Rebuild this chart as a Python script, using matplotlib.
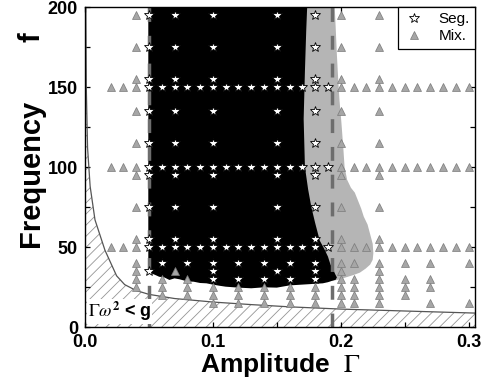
import matplotlib
matplotlib.use("Agg")
import matplotlib.pyplot as plt
from matplotlib.lines import Line2D
from matplotlib.patches import Polygon

plt.rcParams['font.family'] = ['Liberation Sans', 'DejaVu Sans']
plt.rcParams['mathtext.fontset'] = 'stix'
plt.rcParams['hatch.linewidth'] = 0.6

# ---------------- data ----------------
# rows with sparse sampling
sparse_rows = [195, 175, 155, 135, 115, 95, 75, 55]
sparse_seg_cols = [0.05, 0.07, 0.10, 0.15, 0.18]
sparse_mix_cols = [0.04, 0.20, 0.23]
# rows with dense sampling
dense_rows = [150, 100, 50]
dense_seg_cols = [0.05, 0.06, 0.07, 0.08, 0.09, 0.10, 0.11, 0.12, 0.13,
                  0.14, 0.15, 0.16, 0.17, 0.18, 0.19]
dense_mix_cols = [0.02, 0.03, 0.04, 0.20, 0.21, 0.22, 0.23, 0.24, 0.25,
                  0.26, 0.27, 0.28, 0.29, 0.30]
# low-frequency rows
low_rows = [40, 35, 30, 25, 20, 15]
low_seg_cols = [
    [0.06, 0.08, 0.10, 0.12, 0.14, 0.16, 0.18],
    [0.05, 0.10, 0.15, 0.18],
    [0.10, 0.12, 0.14, 0.16, 0.18],
    [],
    [],
    [],
]
low_mix_cols = [
    [0.04, 0.20, 0.21, 0.23, 0.25, 0.27, 0.30],
    [0.04, 0.07, 0.20, 0.23],
    [0.04, 0.06, 0.08, 0.20, 0.21, 0.23, 0.25, 0.27],
    [0.04, 0.06, 0.08, 0.10, 0.12, 0.14, 0.16, 0.18, 0.20, 0.21, 0.23, 0.25, 0.27],
    [0.06, 0.08, 0.10, 0.12, 0.14, 0.16, 0.18, 0.20, 0.21, 0.23, 0.25],
    [0.10, 0.12, 0.14, 0.16, 0.18, 0.20, 0.21, 0.23, 0.27, 0.30],
]

# boundary Gamma*omega^2 = g
curve_gamma = [0.0006, 0.001, 0.002, 0.004, 0.0078, 0.0156, 0.0247, 0.031,
               0.04, 0.05, 0.07, 0.10, 0.13, 0.16, 0.20, 0.25, 0.305]
curve_freq = [200, 150, 112, 88, 67, 48, 32, 26.5,
              22.8, 20.4, 17.8, 15.6, 14.0, 12.6, 11.2, 10.0, 8.7]

# segregated (black) region outline
black_gamma = [0.0495, 0.0495, 0.052, 0.055, 0.058, 0.062, 0.066, 0.070, 0.074,
               0.080, 0.085, 0.090, 0.095, 0.100, 0.105, 0.110, 0.120, 0.130,
               0.140, 0.150, 0.160, 0.170, 0.180, 0.186, 0.190, 0.193, 0.196,
               0.197, 0.196, 0.194, 0.192, 0.190, 0.187, 0.1836, 0.180, 0.177,
               0.1745, 0.172, 0.171, 0.172, 0.173, 0.174]
black_freq = [205, 33, 33.5, 32.5, 31.4, 31, 29.4, 30.4, 29.8,
              28.5, 28.3, 27.5, 27.3, 26.5, 25.8, 25.2, 24.6, 24.2,
              24.8, 24.6, 26, 26.5, 27, 27.3, 28, 28.8, 29.5,
              31, 32.5, 36, 39, 44, 49, 54, 65, 75,
              86, 100, 130, 160, 185, 205]

# partially segregated (gray) region outline
gray_gamma = [0.160, 0.195, 0.196, 0.197, 0.198, 0.199, 0.2005, 0.202, 0.203,
              0.205, 0.208, 0.211, 0.214, 0.216, 0.218, 0.221, 0.223, 0.225,
              0.2255, 0.225, 0.223, 0.2195, 0.215, 0.210, 0.204, 0.198, 0.190,
              0.160]
gray_freq = [205, 205, 188, 170, 155, 142, 128, 112, 100,
             92, 87, 84, 78, 74, 69, 64, 58, 52,
             46, 42, 39, 36.5, 34, 32.5, 31, 29.5, 28.5,
             27]

dashed_gamma = [0.05, 0.193]

# ---------------- figure ----------------
W, H = 491, 383
fig = plt.figure(figsize=(W / 100, H / 100), dpi=100)
ax = fig.add_axes([85 / W, 1 - 327 / H, 390 / W, 320 / H])
ax.set_xlim(0, 0.305)
ax.set_ylim(0, 200)

# hatched region below the curve
ax.fill_between(curve_gamma, 0, curve_freq, facecolor='none',
                edgecolor='#959595', hatch='///', linewidth=0, zorder=1)
ax.plot(curve_gamma, curve_freq, color='#555555', lw=0.9, zorder=2)

ax.add_patch(Polygon(list(zip(gray_gamma, gray_freq)), closed=True,
                     facecolor='#b5b5b5', edgecolor='none', zorder=2))
ax.add_patch(Polygon(list(zip(black_gamma, black_freq)), closed=True,
                     facecolor='black', edgecolor='none', zorder=3))

for g in dashed_gamma:
    ax.axvline(g, color='#6d6d6d', lw=2.5, dashes=(4, 4), zorder=4)

seg_x, seg_y, mix_x, mix_y = [], [], [], []
for f in sparse_rows:
    seg_x += sparse_seg_cols; seg_y += [f] * len(sparse_seg_cols)
    mix_x += sparse_mix_cols; mix_y += [f] * len(sparse_mix_cols)
for f in dense_rows:
    seg_x += dense_seg_cols; seg_y += [f] * len(dense_seg_cols)
    mix_x += dense_mix_cols; mix_y += [f] * len(dense_mix_cols)
for f, sc, mc in zip(low_rows, low_seg_cols, low_mix_cols):
    seg_x += sc; seg_y += [f] * len(sc)
    mix_x += mc; mix_y += [f] * len(mc)

star_kw = dict(marker='*', ms=7, mfc='white', mec='black', mew=0.6, ls='none')
tri_kw = dict(marker='^', ms=6, mfc='#a6a6a6', mec='#7a7a7a', mew=0.5, ls='none')
ax.plot(mix_x, mix_y, zorder=5, **tri_kw)
ax.plot(seg_x, seg_y, zorder=6, **star_kw)

ax.text(0.002, 6, r"$\Gamma\omega^{\mathbf{2}}$ < g", fontsize=13,
        fontweight='bold', ha='left', va='baseline', zorder=7,
        bbox=dict(facecolor='white', edgecolor='none', pad=0.5))

# axes styling
ax.set_xticks([0.0, 0.1, 0.2, 0.3])
ax.set_xticklabels(['0.0', '0.1', '0.2', '0.3'])
ax.set_xticks([0.05, 0.15, 0.25], minor=True)
ax.set_yticks([0, 50, 100, 150, 200])
ax.set_yticks([25, 75, 125, 175], minor=True)
ax.tick_params(which='both', direction='in', top=True, right=True,
               length=3.5, width=0.9, pad=5)
for lab in ax.get_xticklabels() + ax.get_yticklabels():
    lab.set_fontsize(13)
    lab.set_fontweight('bold')
for s in ax.spines.values():
    s.set_linewidth(1.0)
    s.set_zorder(10)

ax.set_xlabel(r"Amplitude  $\Gamma$", fontsize=19, fontweight='bold', labelpad=0)
# y label: "Frequency" and "f" are set apart in the reference
fig.text(31 / W, 1 - 173 / H, "Frequency", rotation=90, fontsize=21,
         fontweight='bold', ha='center', va='center')
fig.text(31 / W, 1 - 37 / H, "f", rotation=90, fontsize=21,
         fontweight='bold', ha='center', va='center')

handles = [Line2D([], [], **star_kw), Line2D([], [], **tri_kw)]
leg = ax.legend(handles, ['Seg.', 'Mix.'], loc='upper right', borderaxespad=0,
                fancybox=False, framealpha=1, edgecolor='black',
                prop=dict(size=11), handlelength=1.4, handletextpad=0.9,
                borderpad=0.35, labelspacing=0.2)
leg.get_frame().set_linewidth(0.9)
leg.set_zorder(11)

fig.savefig('out.png', dpi=100)
